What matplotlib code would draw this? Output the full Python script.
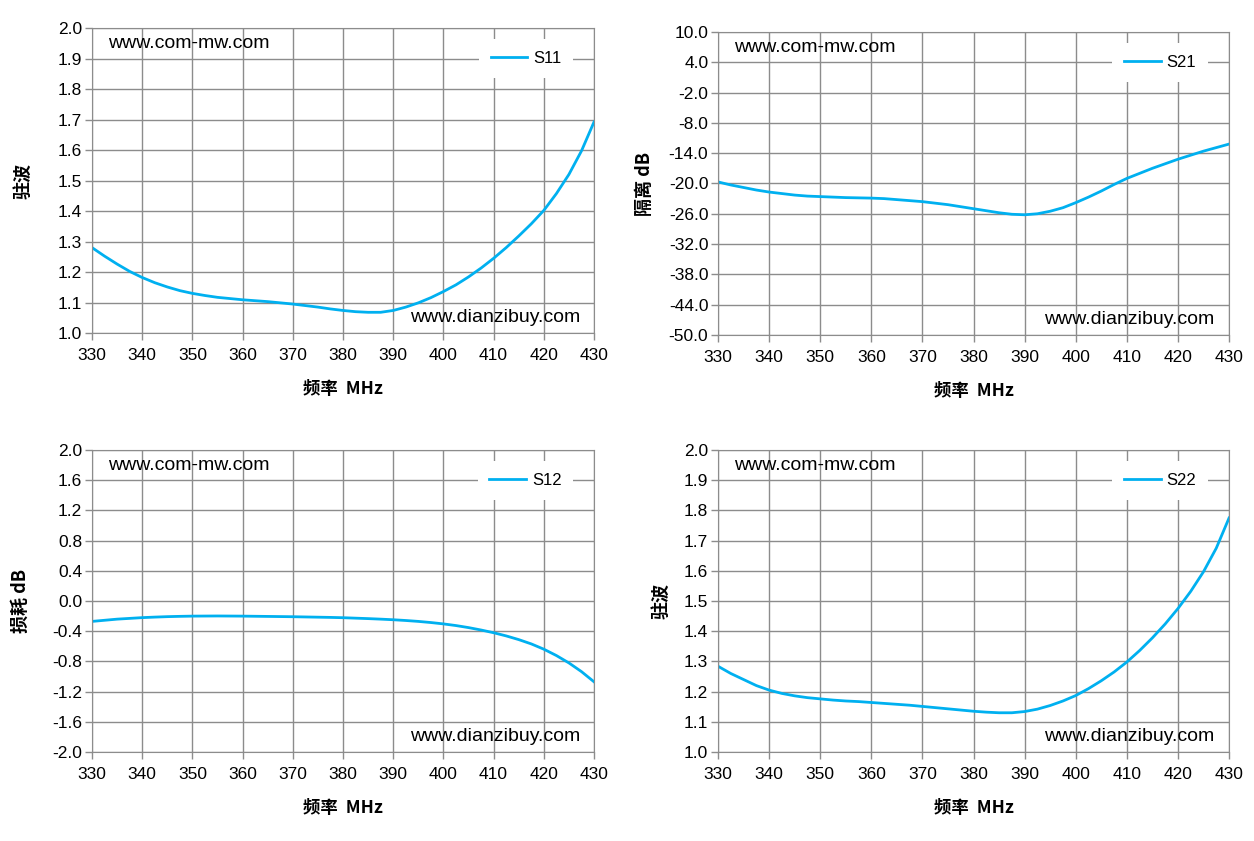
import numpy as np
import matplotlib
matplotlib.use('Agg')
import matplotlib.pyplot as plt
from matplotlib.ticker import FormatStrFormatter

plt.rcParams['font.family'] = ['Liberation Sans', 'DejaVu Sans']

# frequency points, MHz (every 2.5 MHz)
freq = np.arange(330, 430.1, 2.5)

s11 = [1.280, 1.252, 1.226, 1.202, 1.182, 1.165, 1.151, 1.139, 1.130, 1.123,
       1.117, 1.113, 1.109, 1.106, 1.103, 1.099, 1.095, 1.090, 1.085, 1.079,
       1.074, 1.070, 1.068, 1.068, 1.074, 1.085, 1.099, 1.116, 1.136, 1.158,
       1.184, 1.213, 1.245, 1.280, 1.318, 1.358, 1.402, 1.457, 1.520, 1.597,
       1.692]
s21 = [-19.7, -20.3, -20.8, -21.3, -21.7, -22.0, -22.3, -22.5, -22.6, -22.7,
       -22.8, -22.85, -22.9, -23.0, -23.2, -23.4, -23.6, -23.9, -24.2, -24.6,
       -25.0, -25.4, -25.8, -26.1, -26.2, -26.0, -25.5, -24.8, -23.8, -22.7,
       -21.5, -20.2, -19.0, -18.0, -17.0, -16.1, -15.2, -14.4, -13.6, -12.9,
       -12.2]
s12 = [-0.270, -0.255, -0.240, -0.230, -0.220, -0.213, -0.207, -0.203, -0.200, -0.199,
       -0.198, -0.199, -0.200, -0.202, -0.204, -0.206, -0.208, -0.211, -0.214, -0.217,
       -0.221, -0.227, -0.233, -0.240, -0.248, -0.258, -0.270, -0.285, -0.303, -0.325,
       -0.352, -0.384, -0.420, -0.462, -0.511, -0.568, -0.638, -0.722, -0.820, -0.935,
       -1.070]
s22 = [1.284, 1.260, 1.240, 1.220, 1.205, 1.194, 1.186, 1.180, 1.176, 1.172,
       1.169, 1.167, 1.164, 1.161, 1.158, 1.155, 1.151, 1.147, 1.143, 1.139,
       1.135, 1.132, 1.130, 1.130, 1.134, 1.142, 1.154, 1.169, 1.187, 1.210,
       1.236, 1.265, 1.298, 1.336, 1.378, 1.424, 1.475, 1.532, 1.597, 1.675,
       1.775]

x_ticks = [330, 340, 350, 360, 370, 380, 390, 400, 410, 420, 430]

panels = [
    # (data, name, ylabel, ymin, ymax, step, rect, ylabel_x)
    (s11, 'S11', '驻波', 1.0, 2.0, 0.1, [0.0734, 0.604, 0.4003, 0.3627], -0.1195),
    (s21, 'S21', '隔离 dB', -50.0, 10.0, 6.0, [0.5726, 0.6017, 0.4075, 0.3603], -0.125),
    (s12, 'S12', '损耗 dB', -2.0, 2.0, 0.4, [0.0734, 0.1058, 0.4003, 0.3591], -0.125),
    (s22, 'S22', '驻波', 1.0, 2.0, 0.1, [0.5726, 0.1058, 0.4075, 0.3591], -0.094),
]

line_color = '#00B0F0'
grid_color = '#8C8C8C'
cjk = ['Noto Sans CJK SC', 'DejaVu Sans']

fig = plt.figure(figsize=(12.54, 8.41), dpi=100)

for data, name, ylab, ymin, ymax, step, rect, ylx in panels:
    ax = fig.add_axes(rect)
    ax.plot(freq, data, color=line_color, linewidth=2, label=name)
    ax.set_xlim(330, 430)
    ax.set_ylim(ymin, ymax)
    ax.set_xticks(x_ticks)
    ax.set_yticks(np.linspace(ymin, ymax, int(round((ymax - ymin) / step)) + 1))
    ax.yaxis.set_major_formatter(FormatStrFormatter('%.1f'))
    ax.grid(True, color=grid_color, linewidth=1)
    ax.set_axisbelow(True)
    for sp in ax.spines.values():
        sp.set_color(grid_color)
    ax.tick_params(axis='both', length=5, width=1, color=grid_color,
                   labelsize=12.5, labelcolor='black', pad=2)
    ax.tick_params(axis='x', pad=6)
    ax.set_xlabel('频率  MHz', family=cjk, fontweight='bold', fontsize=12.5, labelpad=12)
    ax.set_ylabel(ylab, family=cjk, fontweight='bold', fontsize=13)
    ax.yaxis.set_label_coords(ylx, 0.5)
    ax.text(0.032, 0.95, 'www.com-mw.com', transform=ax.transAxes,
            fontsize=14, va='center', ha='left')
    ax.text(0.972, 0.05, 'www.dianzibuy.com', transform=ax.transAxes,
            fontsize=14, va='center', ha='right')
    leg = ax.legend(loc='upper right', bbox_to_anchor=(0.975, 0.99), frameon=True,
                    fancybox=False, framealpha=1, edgecolor='none', fontsize=12,
                    handlelength=2.2, handletextpad=0.35, borderpad=0.7)
    leg.get_frame().set_facecolor('white')

fig.savefig('out.png', dpi=100)
